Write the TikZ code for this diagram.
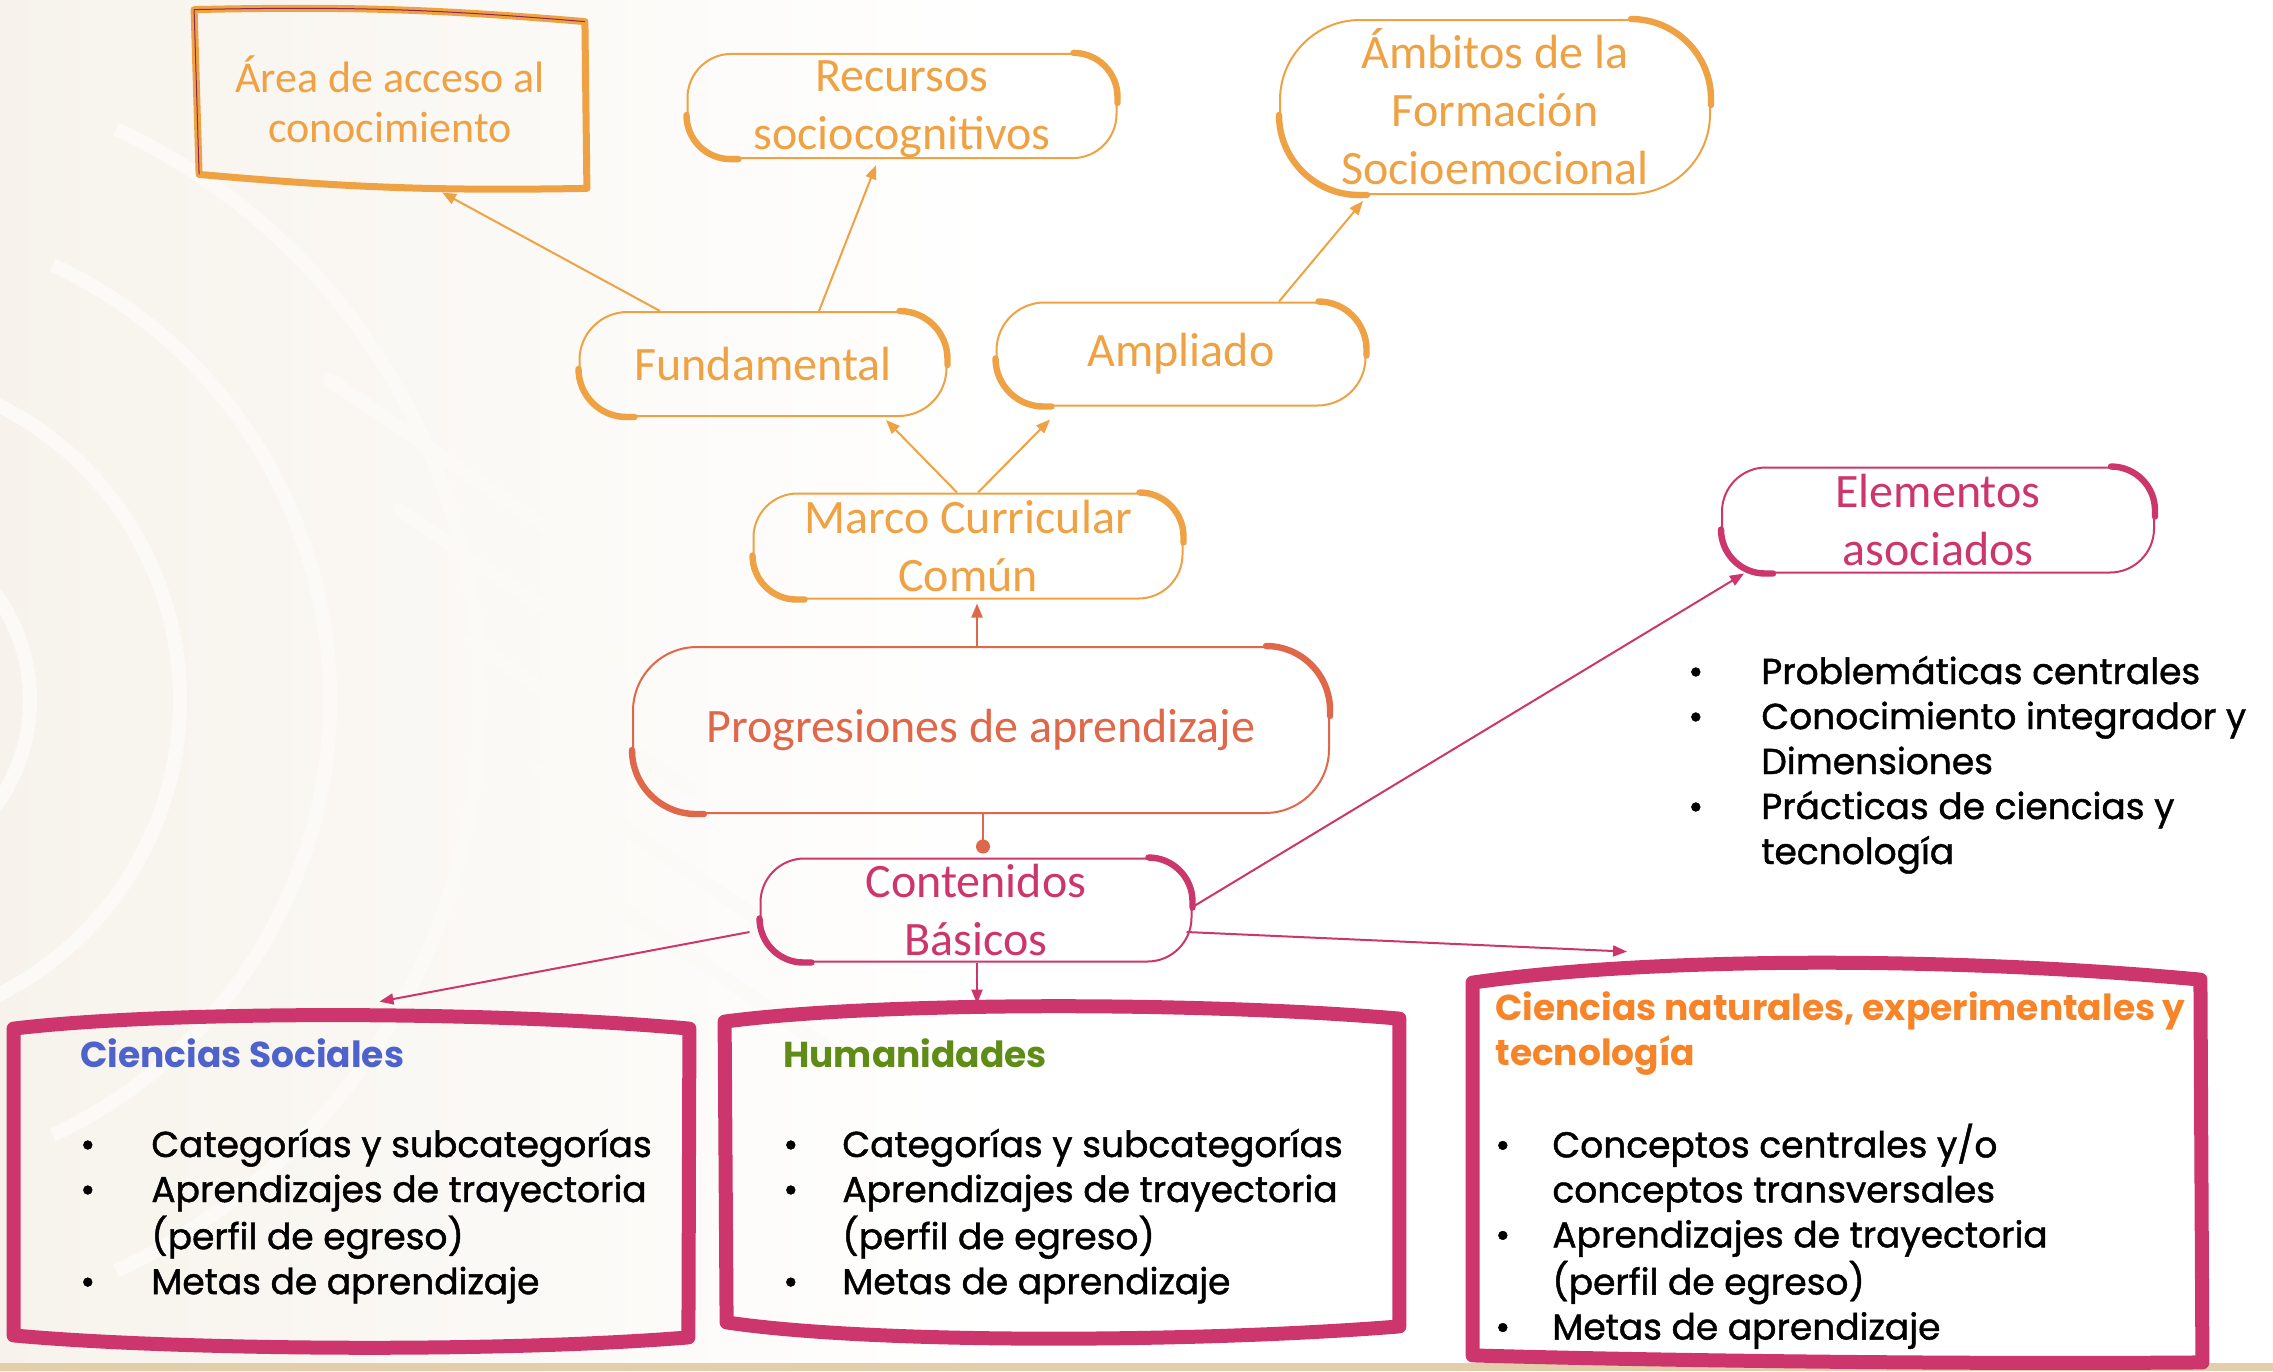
\documentclass[tikz,border=0pt]{standalone}
\usepackage{fontspec}
\setmainfont{Carlito}
\newfontfamily\listfont{Poppins}[FakeBold=1.2]
\newfontfamily\headfont{Poppins}
\usepackage{tikz}
\usetikzlibrary{arrows.meta, calc, positioning}

\definecolor{mcorange}{RGB}{239,162,68}
\definecolor{mccoral}{RGB}{224,104,74}
\definecolor{mcpink}{RGB}{204,54,108}
\definecolor{mcblue}{RGB}{78,98,204}
\definecolor{mcgreen}{RGB}{94,140,22}
\definecolor{mctitle}{RGB}{247,132,40}
\definecolor{mcbeige}{RGB}{247,243,236}
\definecolor{mcstrip}{RGB}{226,206,170}

\begin{document}
\begin{tikzpicture}[x=0.5pt, y=-0.5pt,
  pill/.style={draw=#1, text=#1, line width=1pt, rounded corners=22pt, inner sep=0pt, align=center, font=\fontsize{24}{29}\selectfont},
  accent/.style={line width=3.2pt, line cap=round},
  arr/.style={line width=1pt, -{Triangle[length=7pt,width=5.5pt]}},
  sketch/.style={draw=mcpink, line width=7pt, line cap=round, line join=round},
  listtext/.style={inner sep=0pt, anchor=base west, font=\listfont\fontsize{18}{22.5}\selectfont},
]
\useasboundingbox (0,0) rectangle (2273,1371);

% background
\fill[left color=mcbeige, right color=white] (0,0) rectangle (1000,1371);
\foreach \rad in {180,330,480,630}
  \draw[white!60!mcbeige, line width=7pt] (-150,700) ++(-65:\rad) arc[start angle=-65, end angle=65, radius=\rad];
\foreach \k in {0,...,4}
  \draw[white!60!mcbeige, line width=7pt, line cap=round] (330+70*\k,380+130*\k) -- ++(220,150);
\fill[mcstrip] (0,1363) rectangle (2273,1371);

% upper nodes
\node[text=mcorange, align=center, inner sep=0pt, minimum width=196.5pt, minimum height=89pt, font=\fontsize{22}{25}\selectfont] (area) at (390,99) {Área de acceso al\\conocimiento};
\node[pill=mcorange, minimum width=214.5pt, minimum height=51pt] (recursos) at (902,106) {\parbox[c][48pt][b]{200pt}{\centering Recursos\\sociocognitivos}};
\node[pill=mcorange, minimum width=215pt, minimum height=87pt, rounded corners=40pt] (ambitos) at (1495,107) {Ámbitos de la\\Formación\\Socioemocional};
\node[pill=mcorange, minimum width=183.5pt, minimum height=52pt, rounded corners=24pt] (fund) at (763,364) {Fundamental};
\node[pill=mcorange, minimum width=184.5pt, minimum height=51.5pt, rounded corners=24pt] (ampl) at (1181,354) {Ampliado};
\node[pill=mcorange, minimum width=214.5pt, minimum height=52.5pt] (marco) at (968,546) {Marco Curricular\\Común};
\node[pill=mccoral, minimum width=348pt, minimum height=83pt, rounded corners=32pt] (prog) at (981,730) {Progresiones de aprendizaje};
\node[pill=mcpink, minimum width=215.5pt, minimum height=51.5pt] (cont) at (976,910) {Contenidos\\Básicos};
\node[pill=mcpink, minimum width=216pt, minimum height=52.5pt] (elem) at (1938,520) {Elementos\\asociados};

% accents
\foreach \n/\r/\c in {recursos/22pt/mcorange, ambitos/40pt/mcorange, fund/24pt/mcorange, ampl/24pt/mcorange, marco/22pt/mcorange, prog/32pt/mccoral, cont/22pt/mcpink, elem/22pt/mcpink}{
  \draw[accent, \c] ([xshift=-\r]\n.north east) arc[start angle=90, end angle=0, radius=\r] -- ++(0pt,-3pt);
  \draw[accent, \c] ([yshift=\r]\n.south west) arc[start angle=180, end angle=270, radius=\r] -- ++(4pt,0pt);
}

% hand drawn frame of area
\draw[mcorange, line width=3.5pt, line cap=round, line join=round] ($(area.north west)+(1,0)$) to[bend left=3] ($(area.north east)+(-2,12)$) -- ($(area.south east)+(0,0)$) to[bend left=3] ($(area.south west)+(6,-14)$) -- cycle;
\draw[mcpink!70!black, line width=0.5pt] ($(area.north west)+(1,0)$) to[bend left=3] ($(area.north east)+(-2,12)$);
\draw[mcpink!70!black, line width=0.5pt] ($(area.south west)+(6,-14)$) -- ($(area.north west)+(1,0)$);

% lower boxes
\node[minimum width=337.5pt, minimum height=153pt, inner sep=0pt] (soc) at (351.5,1182) {};
\node[minimum width=337pt, minimum height=155pt, inner sep=0pt] (hum) at (1062,1175) {};
\node[minimum width=363.5pt, minimum height=189.5pt, inner sep=0pt] (nat) at (1836.5,1170.5) {};

\draw[sketch] (soc.north west) .. controls ($(soc.north west)+(150,-18)$) and ($(soc.north east)+(-200,-18)$) .. (soc.north east) -- ($(soc.south east)+(-1,2)$) .. controls ($(soc.south east)+(-200,18)$) and ($(soc.south west)+(150,14)$) .. (soc.south west) -- cycle;
\draw[sketch] ($(hum.north west)+(0,2)$) .. controls ($(hum.north west)+(150,-18)$) and ($(hum.north east)+(-200,-18)$) .. ($(hum.north east)+(0,-1)$) -- ($(hum.south east)+(0,-4)$) .. controls ($(hum.south east)+(-200,12)$) and ($(hum.south west)+(150,14)$) .. ($(hum.south west)+(2,-8)$) -- cycle;
\draw[sketch] ($(nat.north west)+(0,2)$) .. controls ($(nat.north west)+(180,-24)$) and ($(nat.north east)+(-250,-24)$) .. ($(nat.north east)+(0,-1)$) -- ($(nat.south east)+(2,2)$) .. controls ($(nat.south east)+(-250,4)$) and ($(nat.south west)+(180,0)$) .. ($(nat.south west)+(0,-5)$) -- cycle;

% texts of the lower boxes
\node[listtext] (soctext) at (80,1067) {\begin{tabular}[t]{@{}p{35.5pt}@{}l@{}}
\multicolumn{2}{@{}l@{}}{\headfont\bfseries\color{mcblue}Ciencias Sociales}\\
 & \\
•&Categorías y subcategorías\\
•&Aprendizajes de trayectoria\\
 &(perfil de egreso)\\
•&Metas de aprendizaje
\end{tabular}};
\node[listtext] (humtext) at (783,1067) {\begin{tabular}[t]{@{}p{29.5pt}@{}l@{}}
\multicolumn{2}{@{}l@{}}{\headfont\bfseries\color{mcgreen}Humanidades}\\
 & \\
•&Categorías y subcategorías\\
•&Aprendizajes de trayectoria\\
 &(perfil de egreso)\\
•&Metas de aprendizaje
\end{tabular}};
\node[listtext] (nattext) at (1495,1020) {\begin{tabular}[t]{@{}p{28.5pt}@{}l@{}}
\multicolumn{2}{@{}l@{}}{\headfont\bfseries\color{mctitle}Ciencias naturales, experimentales y}\\
\multicolumn{2}{@{}l@{}}{\headfont\bfseries\color{mctitle}tecnología}\\
 & \\
•&Conceptos centrales y/o\\
 &conceptos transversales\\
•&Aprendizajes de trayectoria\\
 &(perfil de egreso)\\
•&Metas de aprendizaje
\end{tabular}};
\node[listtext] (elemtext) at (1688,684) {\begin{tabular}[t]{@{}p{36.5pt}@{}l@{}}
•&Problemáticas centrales\\
•&Conocimiento integrador y\\
 &Dimensiones\\
•&Prácticas de ciencias y\\
 &tecnología
\end{tabular}};

% connectors
\draw[arr, mcorange] ([xshift=-51.5pt]fund.north) -- ([xshift=26pt,yshift=-2pt]area.south);
\draw[arr, mcorange] ([xshift=28pt]fund.north) -- ([xshift=-13pt,yshift=-3pt]recursos.south);
\draw[arr, mcorange] ([xshift=-5.5pt]marco.north) -- ([xshift=61.5pt,yshift=-1.5pt]fund.south);
\draw[arr, mcorange] ([xshift=5pt]marco.north) -- ([xshift=-65.5pt,yshift=-6.5pt]ampl.south);
\draw[arr, mcorange] ([xshift=49pt]ampl.north) -- ([xshift=-66pt,yshift=-3pt]ambitos.south);
\draw[arr, mccoral] ([xshift=-2pt]prog.north) -- ([xshift=4.5pt,yshift=-2pt]marco.south);
\draw[mccoral, line width=1pt, -{Circle[length=7pt]}] ([xshift=1pt]prog.south) -- ([xshift=3.5pt,yshift=2pt]cont.north);
\draw[arr, mcpink] ([xshift=-5pt,yshift=-11pt]cont.west) -- ([xshift=14pt,yshift=13.5pt]soc.north);
\draw[arr, mcpink] ([xshift=0.5pt]cont.south) -- ([xshift=-42.5pt,yshift=8pt]hum.north);
\draw[arr, mcpink] ([xshift=-3pt,yshift=-11pt]cont.east) -- ([xshift=-104.75pt,yshift=14.5pt]nat.north);
\draw[arr, mcpink] ([yshift=1.5pt]cont.east) -- ([xshift=-97pt]elem.south);
\end{tikzpicture}
\end{document}
